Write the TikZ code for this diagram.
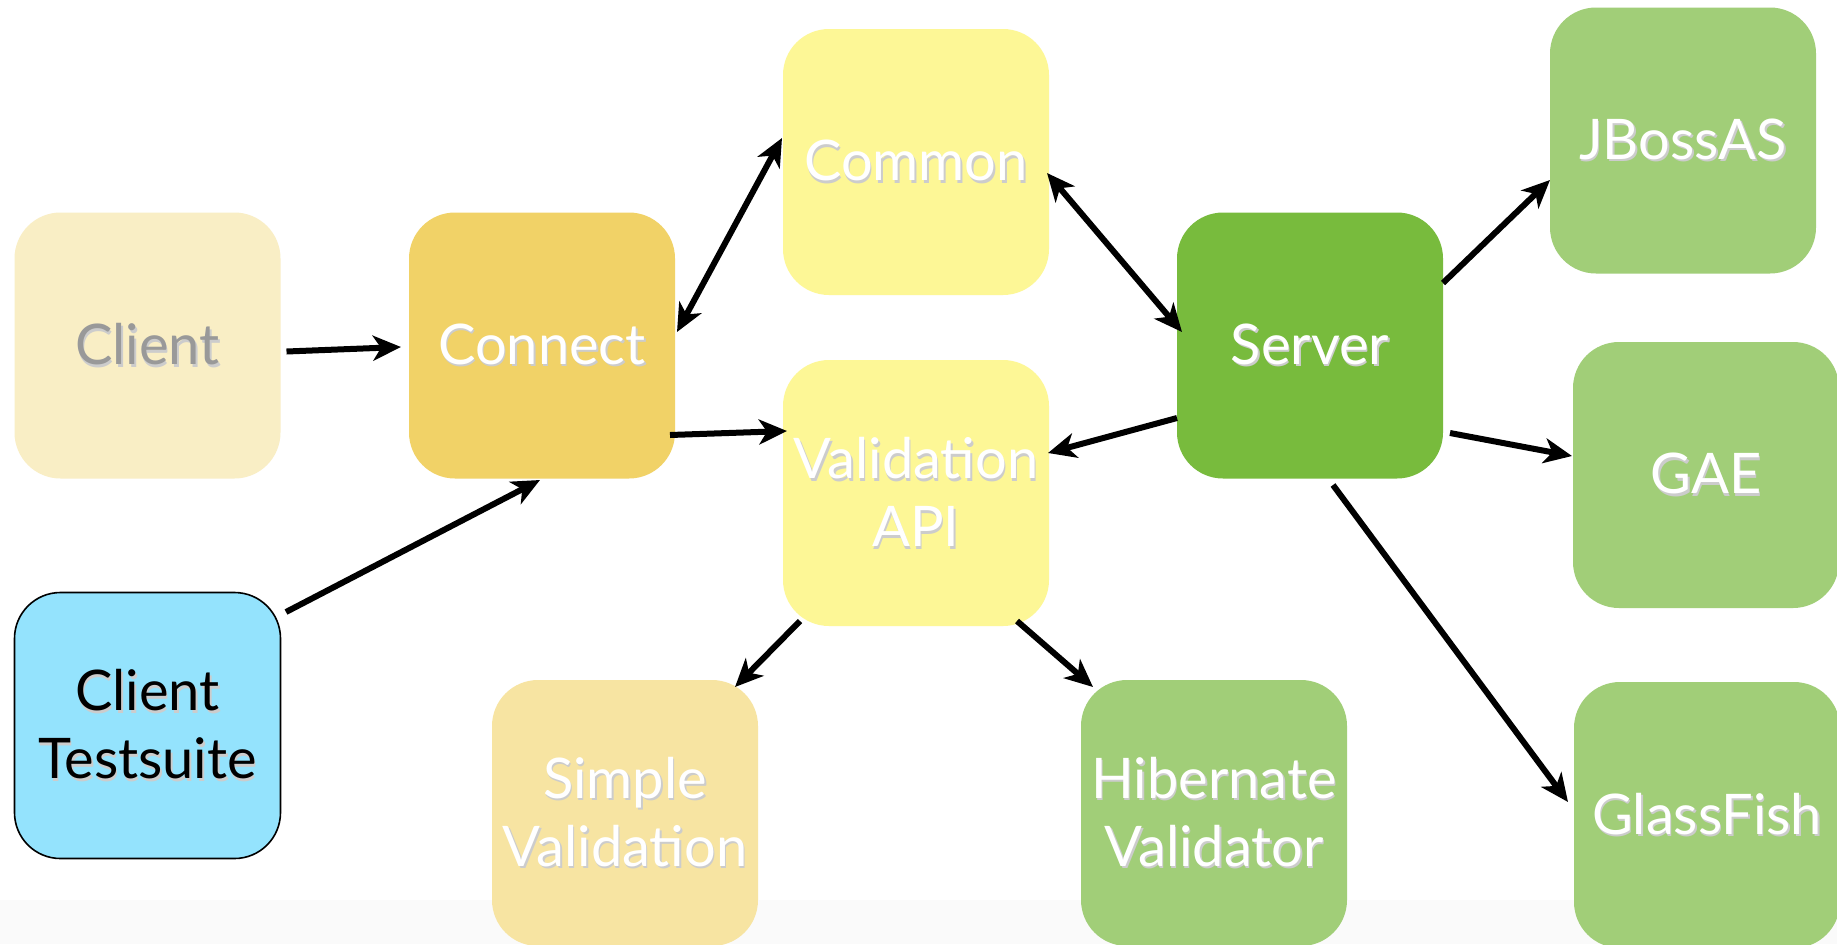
\documentclass[tikz,border=0pt]{standalone}
\usepackage{fontspec}
\setmainfont{Lato}
\usetikzlibrary{arrows.meta,calc}
\definecolor{cream}{HTML}{F9EEC5}
\definecolor{mustard}{HTML}{F1D267}
\definecolor{lemon}{HTML}{FDF796}
\definecolor{sand}{HTML}{F7E4A2}
\definecolor{leaf}{HTML}{78BB3D}
\definecolor{sage}{HTML}{A1CE78}
\definecolor{sky}{HTML}{94E3FD}
\newcommand{\shd}[1]{\rlap{\kern0.8pt\raisebox{-1.4pt}{\textcolor{black!20}{#1}}}#1}

\begin{document}
\begin{tikzpicture}[x=0.5pt,y=-0.5pt,
    box/.style={rounded corners=23pt, minimum width=133pt, minimum height=133pt, inner sep=0pt, align=center, text=white, font=\fontsize{28}{34}\selectfont},
    arr/.style={line width=3pt, -{Stealth[length=14pt,width=12.5pt,inset=4pt]}},
    darr/.style={line width=3pt, {Stealth[length=14pt,width=12.5pt,inset=4pt]}-{Stealth[length=14pt,width=12.5pt,inset=4pt]}}]
            \useasboundingbox (0,0) rectangle (1837,944);
            \fill[white] (0,0) rectangle (1837,944);
            \fill[black!2] (0,900) rectangle (1837,944);
            \node[box, fill=cream, text=black!40] (client) at (147.5,345.5) {\shd{Client}};
            \node[box, fill=mustard] (connect) at (542,345.5) {\shd{Connect}};
            \node[box, fill=lemon] (common) at (916,162) {\shd{Common}};
            \node[box, fill=lemon] (valid) at (916,493) {\shd{Validation}\\\shd{API}};
            \node[box, fill=leaf] (server) at (1310,345.5) {\shd{Server}};
            \node[box, fill=sage] (jboss) at (1683,140.5) {\shd{JBossAS}};
            \node[box, fill=sage] (gae) at (1706,475) {\shd{GAE}};
            \node[box, fill=sage] (glass) at (1707,815) {\shd{GlassFish}};
            \node[box, fill=sky, draw=black, line width=0.8pt, text=black] (suite) at (147.5,725.5) {\shd{Client}\\\shd{Testsuite}};
            \node[box, fill=sand] (simple) at (625,813) {\shd{Simple}\\\shd{Validation}};
            \node[box, fill=sage] (hibernate) at (1214,813) {\shd{Hibernate}\\\shd{Validator}};
            \draw[arr] ($(client)+(139,6)$) -- ($(connect)+(-141,1.5)$);
            \draw[arr] ($(suite)+(138.5,-113.5)$) -- ($(connect)+(-2,134.5)$);
            \draw[darr] ($(connect)+(135,-13.5)$) -- ($(common)+(-134,-24)$);
            \draw[arr] ($(connect)+(128,89.5)$) -- ($(valid)+(-129,-62)$);
            \draw[darr] ($(common)+(131,11)$) -- ($(server)+(-128,-13.5)$);
            \draw[arr] ($(server)+(-133,72.5)$) -- ($(valid)+(132,-40)$);
            \draw[arr] ($(server)+(133,-62.5)$) -- ($(jboss)+(-133,39.5)$);
            \draw[arr] ($(server)+(140,87.5)$) -- ($(gae)+(-134,-19)$);
            \draw[arr] ($(server)+(23,139.5)$) -- ($(glass)+(-139,-13)$);
            \draw[arr] ($(valid)+(-116,128)$) -- ($(simple)+(110,-126)$);
            \draw[arr] ($(valid)+(101,128)$) -- ($(hibernate)+(-121,-126)$);
        \end{tikzpicture}
\end{document}
